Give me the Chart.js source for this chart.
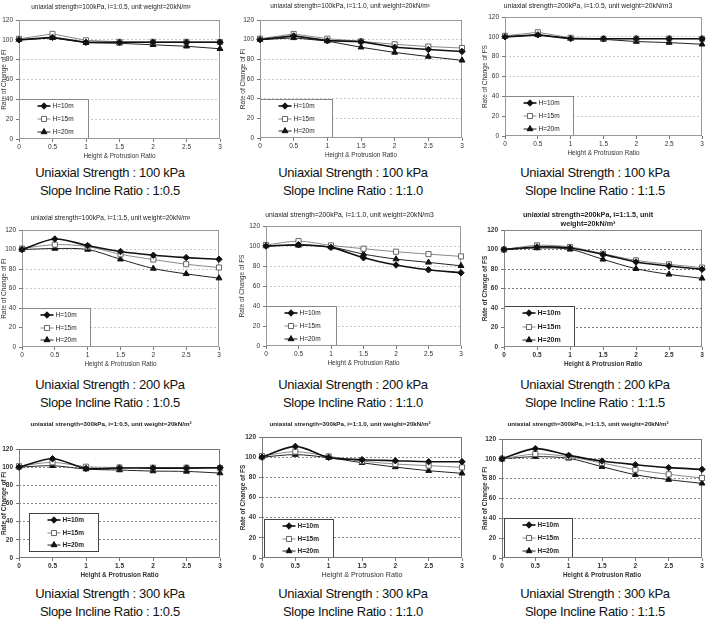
<!DOCTYPE html>
<html>
<head>
<meta charset="utf-8">
<script src="https://cdn.jsdelivr.net/npm/chart.js@4.4.1/dist/chart.umd.min.js"></script>
<style>
  body { margin: 0; background: #fff; width: 709px; height: 626px; position: relative; overflow: hidden;
         font-family: 'Liberation Sans', Arial, sans-serif; }
  .cap { position: absolute; width: 236px; text-align: center; font-size: 13px; letter-spacing: -0.3px;
         color: #111; line-height: 18px; }
</style>
</head>
<body>
<script>
// x axis: height & protrusion ratio
const heightRatio = [0, 0.5, 1, 1.5, 2, 2.5, 3];
const seriesNames = ['H=10m', 'H=15m', 'H=20m'];
const yTicks = [0, 20, 40, 60, 80, 100, 120];

const chartTitles = [
  'uniaxial strength=100kPa, i=1:0.5, unit weight=20kN/m³',
  'uniaxial strength=100kPa, i=1:1.0, unit weight=20kN/m³',
  'uniaxial strength=200kPa, i=1:0.5, unit weight=20kN/m3',
  'uniaxial strength=100kPa, i=1:1.5, unit weight=20kN/m³',
  'uniaxial strength=200kPa, i=1:1.0, unit weight=20kN/m3',
  ['uniaxial strength=200kPa, i=1:1.5, unit', 'weight=20kN/m³'],
  'uniaxial strength=300kPa, i=1:0.5, unit weight=20kN/m³',
  'uniaxial strength=300kPa, i=1:1.0, unit weight=20kN/m³',
  'uniaxial strength=300kPa, i=1:1.5, unit weight=20kN/m³'
];
const yTitles = [
  'Rate of Change of FI', 'Rate of Change of FI', 'Rate of Change of FS',
  'Rate of Change of FI', 'Rate of Change of FS', 'Rate of Change of FS',
  'Rate of Change of FI', 'Rate of Change of FS', 'Rate of Change of FI'
];
const xTitle = 'Height & Protrusion Ratio';
const captionStrength = ['100 kPa', '100 kPa', '100 kPa', '200 kPa', '200 kPa', '200 kPa', '300 kPa', '300 kPa', '300 kPa'];
const captionIncline = ['1:0.5', '1:1.0', '1:1.5', '1:0.5', '1:1.0', '1:1.5', '1:0.5', '1:1.0', '1:1.5'];

// values (rate of change, %)
const fig1H10 = [100, 102.5, 97.5, 97.5, 97.5, 97.5, 97.5];
const fig1H15 = [101, 106, 99.5, 98, 98, 98, 97.8];
const fig1H20 = [100, 102, 97, 96.5, 95, 93.5, 91];

const fig2H10 = [100, 103.8, 99, 98, 92.3, 90, 88];
const fig2H15 = [101, 105.8, 101, 98.3, 95.3, 93, 91.5];
const fig2H20 = [100, 101.8, 98.6, 92.3, 87, 82.8, 79];

const fig3H10 = [100, 102, 98.2, 98, 98, 98, 98];
const fig3H15 = [101, 104.6, 99, 98, 98.2, 98.2, 98];
const fig3H20 = [100, 102, 98.2, 97.5, 95.2, 94.2, 92.5];

const fig4H10 = [100, 110.8, 104, 97.9, 94.1, 91.7, 90];
const fig4H15 = [101, 105, 103, 95.1, 89.7, 84.9, 81.5];
const fig4H20 = [100, 101, 100, 90, 80.5, 75, 70.6];

const fig5H10 = [100, 101.3, 98.6, 88.2, 81, 76.2, 73.2];
const fig5H15 = [101, 104.9, 100.6, 97.3, 94.3, 91.9, 89.6];
const fig5H20 = [100, 100.6, 99, 91.9, 86.9, 83.6, 80.2];

const fig6H10 = [100, 102.6, 101.5, 95, 87.2, 83.1, 79.7];
const fig6H15 = [100, 104.3, 102.6, 95.7, 88.9, 84.8, 81.4];
const fig6H20 = [100, 101.5, 100.2, 89.9, 80.3, 74.5, 70.4];

const fig7H10 = [100, 109.3, 98.6, 99, 99, 99, 99.4];
const fig7H15 = [101, 105.3, 100.5, 99.7, 99.4, 99.4, 99];
const fig7H20 = [100, 101.6, 97.9, 96.8, 95.7, 95.3, 93.5];

const fig8H10 = [100, 110.7, 99.8, 97.5, 96.5, 95.5, 95.5];
const fig8H15 = [101, 105.5, 100.8, 96.2, 93.2, 91.6, 89.9];
const fig8H20 = [100, 102.5, 99.5, 94.5, 90.2, 86.6, 84];

const fig9H10 = [100, 110.3, 103.5, 97.8, 94.1, 91.1, 89.4];
const fig9H15 = [100, 104.9, 102.2, 95.8, 89.1, 84.4, 80.7];
const fig9H20 = [100, 102.2, 100.5, 92.1, 84, 79, 75.3];

const figData = [
  [fig1H10, fig1H15, fig1H20], [fig2H10, fig2H15, fig2H20], [fig3H10, fig3H15, fig3H20],
  [fig4H10, fig4H15, fig4H20], [fig5H10, fig5H15, fig5H20], [fig6H10, fig6H15, fig6H20],
  [fig7H10, fig7H15, fig7H20], [fig8H10, fig8H15, fig8H20], [fig9H10, fig9H15, fig9H20]
];

// line / marker look per series
const seriesStyle = [
  { borderColor: '#111', borderWidth: 1.6, pointStyle: 'rectRot', pointRadius: 3.2, pointBackgroundColor: '#111', pointBorderColor: '#111' },
  { borderColor: '#8a8a8a', borderWidth: 1, pointStyle: 'rect', pointRadius: 3.6, pointBackgroundColor: '#fff', pointBorderColor: '#666' },
  { borderColor: '#222', borderWidth: 1, pointStyle: 'triangle', pointRadius: 3.4, pointBackgroundColor: '#111', pointBorderColor: '#111' }
];

// page layout of each small figure (plot box in page px)
const colX = [0, 236, 472];
const panels = [
  { L: 19,  T: 20,  R: 222, B: 139, tY: 7,   tSize: 6.5, bold: false, yOff: 3,  tension: 0,    grid: '#c8c8c8', frame: '#999', leg: { dx: 0,  w: 69, top: 40,   bottom: 0 } },
  { L: 260, T: 20,  R: 464, B: 138, tY: 6,   tSize: 6.5, bold: false, yOff: 7,  tension: 0,    grid: '#c8c8c8', frame: '#999', leg: { dx: 0,  w: 72, top: 40,   bottom: 0 } },
  { L: 505, T: 17,  R: 704, B: 136, tY: 6,   tSize: 6.8, bold: false, yOff: 13, tension: 0,    grid: '#c8c8c8', frame: '#999', leg: { dx: 0,  w: 68, top: 40,   bottom: 0 } },
  { L: 22,  T: 230, R: 221, B: 347, tY: 218, tSize: 6.5, bold: false, yOff: 2,  tension: 0.3,  grid: '#c8c8c8', frame: '#999', leg: { dx: 0,  w: 68, top: 40,   bottom: 0 } },
  { L: 266, T: 226, R: 463, B: 346, tY: 215, tSize: 6.8, bold: false, yOff: 6,  tension: 0.3,  grid: '#c8c8c8', frame: '#999', leg: { dx: 0,  w: 70, top: 40,   bottom: 0 } },
  { L: 504, T: 230, R: 704, B: 347, tY: 220, tSize: 7.2, bold: true,  yOff: 13, tension: 0.3,  grid: '#777',    frame: '#888', leg: { dx: 0,  w: 70, top: 42,   bottom: 0 } },
  { L: 19,  T: 449, R: 222, B: 558, tY: 425, tSize: 6.2, bold: true,  yOff: 2,  tension: 0.3,  grid: '#888',    frame: '#777', leg: { dx: 10, w: 69, top: 49.5, bottom: 6.5 } },
  { L: 262, T: 437, R: 464, B: 558, tY: 425, tSize: 6.2, bold: true,  yOff: 7,  tension: 0.3,  grid: '#888',    frame: '#777', leg: { dx: 2,  w: 69, top: 39,   bottom: 0 } },
  { L: 502, T: 439, R: 704, B: 558, tY: 425, tSize: 6.2, bold: true,  yOff: 13, tension: 0.3,  grid: '#888',    frame: '#777', leg: { dx: 2,  w: 68, top: 40,   bottom: 0 } }
];
const captionTop = [164, 376, 585];

Chart.defaults.font.family = "'Liberation Sans', Arial, sans-serif";
Chart.defaults.color = '#333';

function drawMarker(ctx, style, x, y, r) {
  ctx.beginPath();
  if (style === 'rectRot') {
    ctx.moveTo(x, y - r); ctx.lineTo(x + r, y); ctx.lineTo(x, y + r); ctx.lineTo(x - r, y);
  } else if (style === 'rect') {
    const h = r * Math.SQRT1_2;
    ctx.rect(x - h, y - h, 2 * h, 2 * h);
  } else {
    for (let k = 0; k < 3; k++) {
      const a = k * 2 * Math.PI / 3;
      const px = x + Math.sin(a) * r, py = y - Math.cos(a) * r;
      if (k === 0) ctx.moveTo(px, py); else ctx.lineTo(px, py);
    }
  }
  ctx.closePath();
  ctx.fill();
  ctx.stroke();
}

// plot frame + boxed legend sitting inside the plot area
const frameLegend = {
  id: 'frameLegend',
  beforeDatasetsDraw(chart, args, opts) {
    const { ctx, chartArea: a } = chart;
    const y = chart.scales.y;
    const lb = opts.box;
    ctx.save();
    const x0 = Math.round(a.left + lb.dx) + 0.5;
    const y0 = Math.round(y.getPixelForValue(lb.top)) + 0.5;
    const y1 = Math.round(y.getPixelForValue(lb.bottom)) - 0.5;
    ctx.fillStyle = '#fff';
    ctx.fillRect(x0, y0, lb.w, y1 - y0);
    ctx.strokeStyle = opts.boxColor;
    ctx.lineWidth = 1;
    ctx.strokeRect(x0, y0, lb.w, y1 - y0);

    chart.data.datasets.forEach((ds, i) => {
      const cy = Math.round(y0 + (y1 - y0) * (2 * i + 1) / 6);
      ctx.strokeStyle = ds.borderColor;
      ctx.lineWidth = ds.borderWidth;
      ctx.beginPath();
      ctx.moveTo(x0 + 18, cy);
      ctx.lineTo(x0 + 31, cy);
      ctx.stroke();
      ctx.fillStyle = ds.pointBackgroundColor;
      ctx.strokeStyle = ds.pointBorderColor;
      ctx.lineWidth = 1;
      drawMarker(ctx, ds.pointStyle, x0 + 24.5, cy, ds.pointRadius);
      ctx.fillStyle = '#222';
      ctx.font = (opts.bold ? 'bold ' : '') + opts.fontSize + "px 'Liberation Sans', Arial, sans-serif";
      ctx.textBaseline = 'middle';
      ctx.textAlign = 'left';
      ctx.fillText(ds.label, x0 + 33, cy);
    });

    ctx.strokeStyle = opts.frameColor;
    ctx.lineWidth = 1;
    ctx.strokeRect(Math.round(a.left) + 0.5, Math.round(a.top) + 0.5, Math.round(a.width) - 1, Math.round(a.height) - 1);
    ctx.restore();
  }
};

panels.forEach((p, i) => {
  const cx = colX[i % 3];
  const title = chartTitles[i];
  const lines = Array.isArray(title) ? title.length : 1;
  const lh = p.tSize * 1.2;
  const top = Math.round(p.tY - lines * lh / 2 - 1);
  const w = Math.round(p.R - cx + 3);
  const h = Math.round(p.B + 22 - top);
  const yW = p.L - cx;
  const weight = p.bold ? 'bold' : 'normal';
  const tickFont = { size: 6.5, weight: weight };

  const canvas = document.createElement('canvas');
  canvas.width = w;
  canvas.height = h;
  canvas.style.cssText = 'position:absolute;left:' + cx + 'px;top:' + top + 'px;width:' + w + 'px;height:' + h + 'px';
  document.body.appendChild(canvas);

  const datasets = figData[i].map((vals, k) => Object.assign({
    label: seriesNames[k],
    data: heightRatio.map((x, j) => ({ x: x, y: vals[j] })),
    pointBorderWidth: 1,
    tension: p.tension,
    clip: false,
    fill: false
  }, seriesStyle[k]));

  new Chart(canvas.getContext('2d'), {
    type: 'line',
    data: { datasets: datasets },
    plugins: [frameLegend],
    options: {
      responsive: false,
      animation: false,
      events: [],
      layout: { padding: { left: 0, right: 3, top: 0, bottom: 0 } },
      plugins: {
        legend: { display: false },
        tooltip: { enabled: false },
        title: {
          display: true,
          text: title,
          color: '#222',
          font: { size: p.tSize, weight: weight },
          padding: { top: 1, bottom: p.T - top - 1 - lines * lh }
        },
        frameLegend: {
          box: p.leg,
          frameColor: p.frame,
          boxColor: p.bold ? '#444' : '#888',
          fontSize: i === 5 ? 7 : 6.5,
          bold: p.bold
        }
      },
      scales: {
        x: {
          type: 'linear',
          min: 0,
          max: 3,
          afterFit: s => { s.height = 22; },
          afterBuildTicks: s => { s.ticks = heightRatio.map(v => ({ value: v })); },
          ticks: { font: tickFont, color: '#333', padding: 1, maxRotation: 0, autoSkip: false, callback: v => String(v) },
          grid: { drawOnChartArea: false, tickLength: 3, tickColor: '#777' },
          border: { display: false },
          title: { display: true, text: xTitle, color: '#333', font: { size: i === 7 ? 7.2 : 6.4, weight: p.bold && i !== 7 ? 'bold' : 'normal' }, padding: { top: 0, bottom: 1 } }
        },
        y: {
          min: 0,
          max: 120,
          afterFit: s => { s.width = yW; },
          afterBuildTicks: s => { s.ticks = yTicks.map(v => ({ value: v })); },
          ticks: { font: tickFont, color: '#333', padding: 3, callback: v => String(v) },
          grid: {
            color: c => (c.tick && (c.tick.value === 0 || c.tick.value === 120)) ? 'rgba(0,0,0,0)' : p.grid,
            lineWidth: 1,
            tickLength: 3,
            tickColor: '#777'
          },
          border: { display: false, dash: [2, 2] },
          title: { display: true, text: yTitles[i], color: '#333', font: { size: 6.5, weight: weight }, padding: { top: Math.max(0, p.yOff - 3.9), bottom: 0 } }
        }
      }
    }
  });

  const cap = document.createElement('div');
  cap.className = 'cap';
  const centers = [110, 353, 595];
  cap.style.left = (centers[i % 3] - 118) + 'px';
  cap.style.top = captionTop[Math.floor(i / 3)] + 'px';
  cap.innerHTML = 'Uniaxial Strength : ' + captionStrength[i] + '<br>Slope Incline Ratio : ' + captionIncline[i];
  document.body.appendChild(cap);
});
</script>
</body>
</html>
